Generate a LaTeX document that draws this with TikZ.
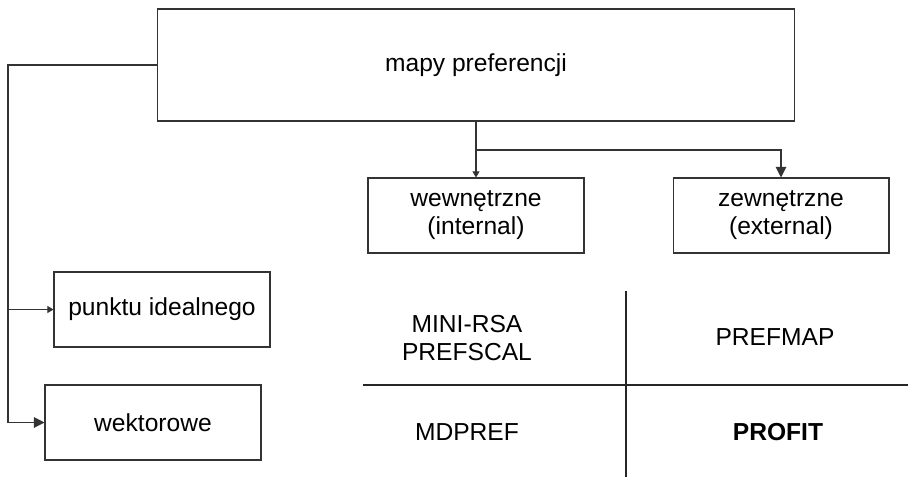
\documentclass[tikz,border=0pt]{standalone}
\usepackage{fontspec}
\setmainfont{Liberation Sans}
\usetikzlibrary{arrows.meta}

\tikzset{every picture/.style={line width=0.6pt}}
\tikzset{
  box/.style={draw=black!80, minimum width=4.32cm, minimum height=1.5cm, align=center, inner sep=0pt},
  label/.style={align=center, inner sep=0pt},
  bigarrow/.style={draw=black!80, -{Triangle[length=6pt,width=6pt]}},
  smallarrow/.style={draw=black!80, -{Triangle[length=3.5pt,width=4pt]}},
}

\begin{document}
\begin{tikzpicture}[x=0.02cm, y=-0.02cm, font=\fontsize{14}{16}\selectfont]
        \useasboundingbox (0,0) rectangle (910,477);
        % boxes
        \node[box, minimum width=12.76cm, minimum height=2.24cm] (mapy) at (476,65) {mapy preferencji};
        \node[box] (wewn) at (476,215.5) {wewnętrzne\\(internal)};
        \node[box] (zewn) at (781,215.5) {zewnętrzne\\(external)};
        \node[box] (punkt) at (162,309.5) {punktu idealnego};
        \node[box] (wektor) at (153,422.5) {wektorowe};
        % table
        \node[label] (minirsa) at (467,338) {MINI-RSA\\PREFSCAL};
        \node[label] (prefmap) at (775,337) {PREFMAP};
        \node[label] (mdpref) at (467,432) {MDPREF};
        \node[label] (profit) at (778,432) {\textbf{PROFIT}};
        \draw[black!85] (626,291) -- (626,477);
        \draw[black!85] (363,385) -- (908,385);
        % connectors
        \coordinate (lbus) at (8,65);
        \coordinate (split) at (476,150);
        \draw[bigarrow] (mapy.west) -- (lbus) |- (wektor.west);
        \draw[smallarrow] (lbus |- punkt.west) -- (punkt.west);
        \draw[smallarrow] (mapy.south) -- (wewn.north);
        \draw[bigarrow] (split) -| (zewn.north);
    \end{tikzpicture}
\end{document}
